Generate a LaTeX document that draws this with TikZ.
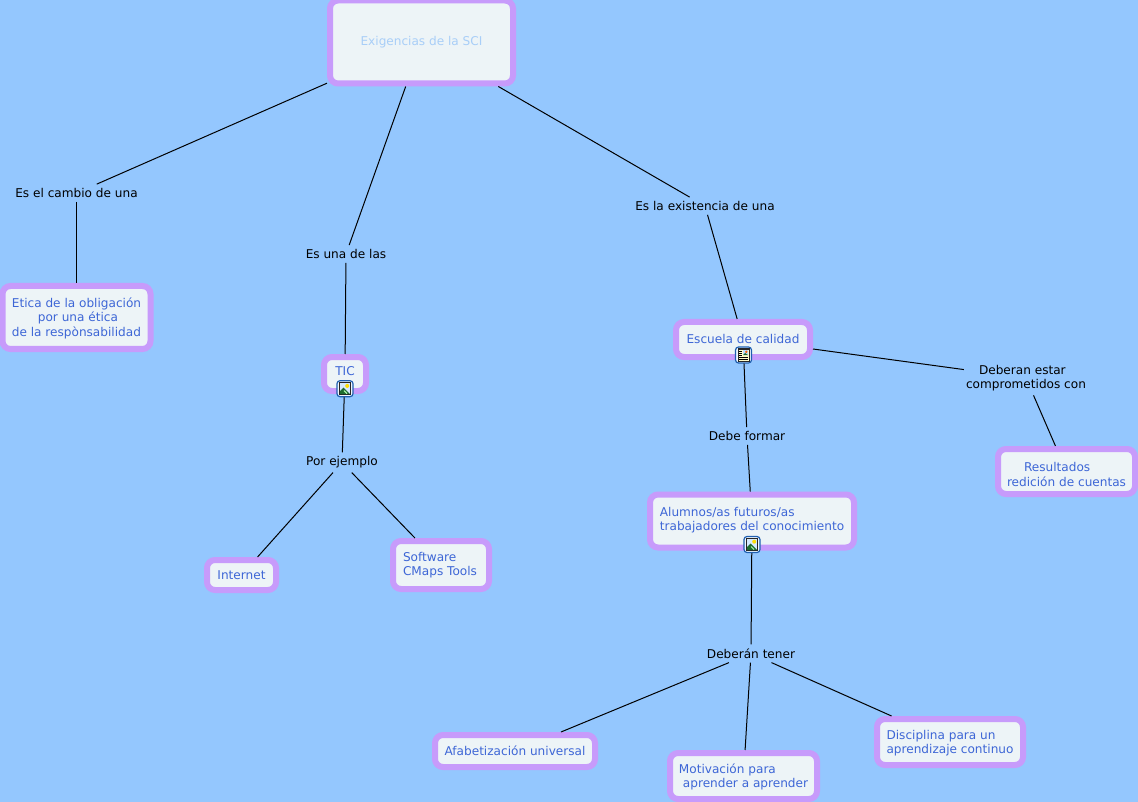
\documentclass[tikz,border=0pt]{standalone}
\usepackage{fontspec}
\setmainfont{DejaVu Sans}
\usepackage{xcolor}
\usetikzlibrary{positioning}
\definecolor{bgblue}{HTML}{94C7FE}
\definecolor{framepurple}{HTML}{C79BFB}
\definecolor{boxfill}{HTML}{EDF4F7}
\definecolor{textblue}{HTML}{3D66D6}
\definecolor{roottext}{HTML}{A8CEF8}
\definecolor{iconblue}{HTML}{1F5FB0}
\definecolor{hillgreen}{HTML}{1E6B2E}
\tikzset{
	concept/.style={draw=framepurple, line width=6pt, fill=boxfill, rounded corners=8pt, text=textblue, align=left, inner sep=0pt},
	linkword/.style={text=black, align=left, inner xsep=2pt, inner ysep=4pt},
	link/.style={black, line width=1pt},
	pics/picicon/.style={code={
		\draw[iconblue, fill=white!85!bgblue, line width=1.2pt, rounded corners=3pt] (-8,-8) rectangle (8,8);
		\fill[black!85] (-6,-6.5) rectangle (6,6.5);
		\fill[white!60!bgblue] (-5,-5.5) rectangle (5,5.5);
		\fill[yellow!80!orange] (2.2,-2.8) circle [radius=2];
		\fill[hillgreen] (-5,5.5) -- (-5,2.5) -- (-1.5,-1) -- (5,5.5) -- cycle;
		\draw[white!70!green, line width=1pt] (-1,2) -- (2,5);
	}},
	pics/docicon/.style={code={
		\draw[iconblue, fill=white!85!bgblue, line width=1.2pt, rounded corners=3pt] (-8,-8) rectangle (8,8);
		\draw[black!85, fill=yellow!20, line width=1pt] (-5.5,-6) rectangle (5.5,6);
		\fill[white!40!bgblue] (-0.5,-5) rectangle (4.5,0);
		\fill[orange!70!red] (2.8,-3.2) circle [radius=1.3];
		\fill[hillgreen] (-0.5,0) -- (1.5,-2) -- (4.5,0) -- cycle;
		\foreach \y in {-4,-2,0}
			\draw[black, line width=1pt] (-4.2,\y) -- (-1.5,\y);
		\foreach \y in {2,4}
			\draw[black, line width=1pt] (-4.2,\y) -- (4.2,\y);
	}}
}
\begin{document}
\begin{tikzpicture}[x=1pt,y=-1pt,font=\fontsize{12.1}{14.6}\selectfont]
		\fill[bgblue] (0,0) rectangle (1138,802);
		\useasboundingbox (0,0) rectangle (1138,802);
		
		% concepts
		\node [concept, minimum width=183pt, minimum height=83pt, text=roottext] (sci) at (421.5,42) {Exigencias de la SCI};
		\node [concept, minimum width=148pt, minimum height=63pt] (etica) at (76.5,317.5) {\rule{0pt}{11.5pt}Etica de la obligación\\\hspace*{26pt}por una ética\\de la respònsabilidad};
		\node [concept, minimum width=42pt, minimum height=34pt] (tic) at (345,374) {\rule[-6pt]{0pt}{1pt}TIC};
		\node [concept, minimum width=134pt, minimum height=35pt] (escuela) at (743,339.5) {\rule[-2pt]{0pt}{1pt}Escuela de calidad};
		\node [concept, minimum width=137pt, minimum height=45pt] (resultados) at (1066.5,471.5) {\rule{0pt}{15.5pt}\hspace*{17pt}Resultados\\redición de cuentas};
		\node [concept, minimum width=204pt, minimum height=53pt] (alumnos) at (752,521) {Alumnos/as futuros/as\\trabajadores del conocimiento\rule[-4.5pt]{0pt}{1pt}};
		\node [concept, minimum width=69pt, minimum height=30pt] (internet) at (241.5,575) {Internet};
		\node [concept, minimum width=96pt, minimum height=48pt] (software) at (441,565) {Software\hspace*{2pt}\\CMaps Tools\hspace*{2pt}};
		\node [concept, minimum width=160pt, minimum height=32pt] (afabetizacion) at (515,751) {Afabetización universal};
		\node [concept, minimum width=147pt, minimum height=46pt] (motivacion) at (743.5,776) {\rule{0pt}{11.5pt}Motivación para\\\hspace*{4pt}aprender a aprender};
		\node [concept, minimum width=146pt, minimum height=46pt] (disciplina) at (950,742) {\rule{0pt}{11.5pt}Disciplina para un\\aprendizaje continuo};
		
		% linking words
		\node [linkword] (cambio) at (76.5,193) {Es el cambio de una};
		\node [linkword] (unade) at (346,254) {Es una de las};
		\node [linkword] (existencia) at (705,206) {Es la existencia de una};
		\node [linkword] (ejemplo) at (342,462.5) {Por ejemplo};
		\node [linkword] (formar) at (747,436) {Debe formar};
		\node [linkword] (tener) at (751,653.5) {Deberán tener};
		\node [linkword] (comprometidos) at (1026,378) {\hspace*{13pt}Deberan estar\\comprometidos con};
		
		\draw [link] (sci) -- (cambio);
		\draw [link] (cambio) -- (etica);
		\draw [link] (sci) -- (unade);
		\draw [link] (unade) -- (tic);
		\draw [link] (tic) -- (ejemplo);
		\draw [link] (ejemplo) -- (internet);
		\draw [link] (ejemplo) -- (software);
		\draw [link] (sci) -- (existencia);
		\draw [link] (existencia) -- (escuela);
		\draw [link] (escuela) -- (comprometidos);
		\draw [link] (comprometidos) -- (resultados);
		\draw [link] (escuela) -- (formar);
		\draw [link] (formar) -- (alumnos);
		\draw [link] (alumnos) -- (tener);
		\draw [link] (tener) -- (afabetizacion);
		\draw [link] (tener) -- (motivacion);
		\draw [link] (tener) -- (disciplina);
		
		% icons
		\pic at (345,388.7) {picicon};
		\pic at (743.5,355) {docicon};
		\pic at (752,544.5) {picicon};
\end{tikzpicture}
\end{document}
